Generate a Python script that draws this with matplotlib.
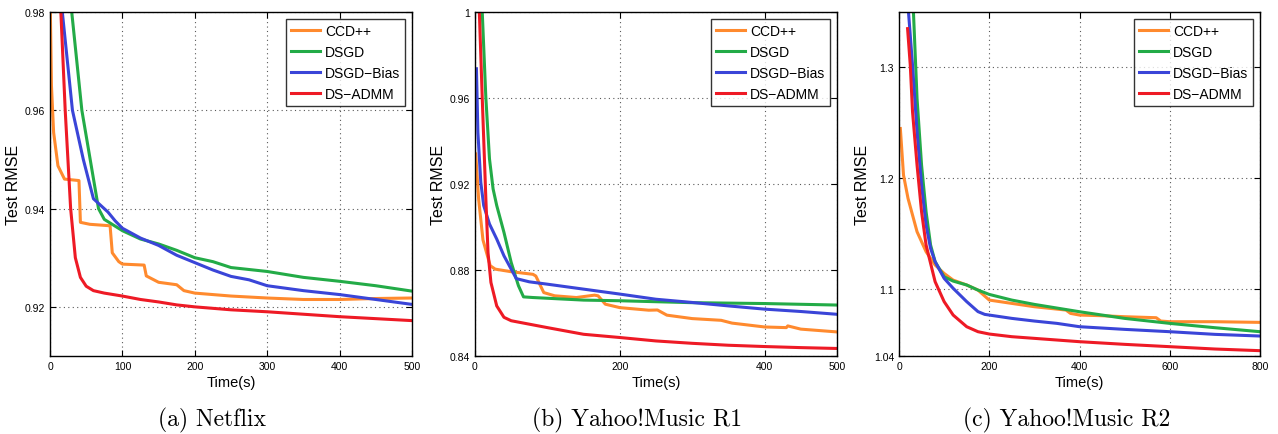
import numpy as np
import matplotlib
matplotlib.use("Agg")
from matplotlib import pyplot as plt

plt.rcParams['font.family'] = ['Liberation Sans', 'DejaVu Sans']

methods = ['CCD++', 'DSGD', 'DSGD\u2212Bias', 'DS\u2212ADMM']
colors = ['#ff8a2e', '#23ab47', '#3a45d8', '#ee1a25']

# (a) Netflix
nf_ccd_t = [0, 2, 5, 11, 20, 40, 42, 55, 83, 86, 95, 100, 130, 133, 150, 175, 185,
            200, 250, 300, 350, 400, 450, 500]
nf_ccd_v = [0.985, 0.965, 0.9555, 0.9487, 0.946, 0.9457, 0.9372, 0.9368, 0.9365, 0.931,
            0.9292, 0.9287, 0.9285, 0.9263, 0.925, 0.9245, 0.9233, 0.9228, 0.9222,
            0.9218, 0.9215, 0.9215, 0.9217, 0.9218]
nf_dsgd_t = [28, 30, 44, 67, 75, 100, 125, 150, 175, 200, 225, 250, 300, 350, 400, 450, 500]
nf_dsgd_v = [0.985, 0.98, 0.96, 0.94, 0.9378, 0.9355, 0.9338, 0.9328, 0.9315, 0.930,
             0.9292, 0.928, 0.9272, 0.926, 0.9252, 0.9243, 0.9232]
nf_bias_t = [15, 17, 31, 46, 60, 80, 90, 100, 125, 150, 175, 200, 225, 250, 275, 300,
             350, 400, 450, 500]
nf_bias_v = [0.985, 0.98, 0.96, 0.95, 0.942, 0.9393, 0.9375, 0.936, 0.934, 0.9325,
             0.9305, 0.929, 0.9275, 0.9262, 0.9255, 0.9243, 0.9233, 0.9225, 0.9215, 0.9205]
nf_admm_t = [14, 15, 21, 28.5, 35, 42, 50, 60, 75, 100, 125, 150, 175, 200, 250, 300,
             350, 400, 450, 500]
nf_admm_v = [0.985, 0.98, 0.96, 0.94, 0.93, 0.926, 0.9242, 0.9233, 0.9228, 0.9222,
             0.9215, 0.921, 0.9204, 0.920, 0.9194, 0.919, 0.9185, 0.918, 0.9176, 0.9172]

# (b) Yahoo!Music R1
r1_ccd_t = [1, 5, 11, 21, 28, 50, 80, 84, 95, 110, 140, 165, 170, 180, 200, 240, 252,
            265, 300, 340, 355, 400, 430, 432, 450, 500]
r1_ccd_v = [0.934, 0.913, 0.894, 0.882, 0.8804, 0.8792, 0.878, 0.8772, 0.8695, 0.868,
            0.8672, 0.8683, 0.868, 0.8641, 0.8625, 0.8613, 0.8614, 0.859, 0.8574,
            0.8566, 0.8553, 0.8535, 0.8532, 0.854, 0.8525, 0.8512]
r1_dsgd_t = [9, 10, 15, 20, 25, 30, 40, 50, 60, 67, 80, 150, 200, 300, 400, 500]
r1_dsgd_v = [1.005, 1.0, 0.96, 0.9317, 0.9177, 0.91, 0.8975, 0.8835, 0.8727, 0.8675,
             0.8672, 0.866, 0.8657, 0.8648, 0.8644, 0.8637]
r1_bias_t = [2, 4, 8, 12, 20, 30, 40, 50, 57, 75, 100, 150, 200, 250, 300, 350, 400,
             450, 500]
r1_bias_v = [0.9736, 0.944, 0.9208, 0.91, 0.9014, 0.8944, 0.8866, 0.8804, 0.876,
             0.8745, 0.8734, 0.8711, 0.8688, 0.8664, 0.8649, 0.8633, 0.8618, 0.8607, 0.8594]
r1_admm_t = [5, 6, 10, 15, 18, 22, 30, 40, 50, 75, 100, 150, 200, 250, 300, 350, 400,
             450, 500]
r1_admm_v = [1.005, 1.0, 0.96, 0.913, 0.888, 0.8742, 0.8633, 0.858, 0.8564, 0.8548,
             0.8532, 0.8501, 0.8486, 0.847, 0.8459, 0.845, 0.8444, 0.8439, 0.8435]

# (c) Yahoo!Music R2
r2_ccd_t = [3, 10, 20, 40, 60, 80, 100, 120, 150, 175, 200, 250, 300, 370, 380, 400,
            450, 500, 570, 580, 600, 700, 800]
r2_ccd_v = [1.245, 1.203, 1.182, 1.152, 1.134, 1.122, 1.1144, 1.1084, 1.104, 1.0994,
            1.0904, 1.0874, 1.0844, 1.0814, 1.0784, 1.0769, 1.0763, 1.0754, 1.0745,
            1.0715, 1.0709, 1.0709, 1.0703]
r2_dsgd_t = [30, 32, 40, 50, 60, 70, 80, 100, 120, 150, 175, 200, 250, 300, 400, 500,
             600, 700, 800]
r2_dsgd_v = [1.36, 1.35, 1.272, 1.212, 1.17, 1.14, 1.125, 1.1114, 1.1075, 1.104,
             1.0994, 1.0955, 1.0904, 1.0865, 1.0799, 1.0739, 1.0694, 1.0655, 1.0619]
r2_bias_t = [19, 21, 30, 40, 50, 60, 70, 80, 100, 120, 150, 175, 190, 200, 250, 300,
             350, 400, 500, 600, 700, 800]
r2_bias_v = [1.36, 1.35, 1.302, 1.242, 1.194, 1.158, 1.137, 1.125, 1.11, 1.101, 1.089,
             1.08, 1.0775, 1.0769, 1.0739, 1.0715, 1.0694, 1.0664, 1.064, 1.0619,
             1.0595, 1.058]
r2_admm_t = [19, 25, 30, 40, 50, 60, 80, 100, 120, 150, 175, 200, 250, 300, 400, 500,
             600, 700, 800]
r2_admm_v = [1.335, 1.302, 1.26, 1.212, 1.17, 1.14, 1.107, 1.089, 1.0769, 1.0664,
             1.0619, 1.0598, 1.0574, 1.0559, 1.0529, 1.0505, 1.0484, 1.0463, 1.0448]

captions = ['(a) Netflix', '(b) Yahoo!Music R1', '(c) Yahoo!Music R2']

panels = [
    dict(series=[(nf_ccd_t, nf_ccd_v), (nf_dsgd_t, nf_dsgd_v), (nf_bias_t, nf_bias_v),
                 (nf_admm_t, nf_admm_v)],
         xlim=(0, 500), ylim=(0.91, 0.98),
         xticks=[0, 100, 200, 300, 400, 500], yticks=[0.92, 0.94, 0.96, 0.98],
         ylabels=['0.92', '0.94', '0.96', '0.98']),
    dict(series=[(r1_ccd_t, r1_ccd_v), (r1_dsgd_t, r1_dsgd_v), (r1_bias_t, r1_bias_v),
                 (r1_admm_t, r1_admm_v)],
         xlim=(0, 500), ylim=(0.84, 1.0),
         xticks=[0, 200, 400, 500], yticks=[0.84, 0.88, 0.92, 0.96, 1.0],
         ylabels=['0.84', '0.88', '0.92', '0.96', '1']),
    dict(series=[(r2_ccd_t, r2_ccd_v), (r2_dsgd_t, r2_dsgd_v), (r2_bias_t, r2_bias_v),
                 (r2_admm_t, r2_admm_v)],
         xlim=(0, 800), ylim=(1.04, 1.35),
         xticks=[0, 200, 400, 600, 800], yticks=[1.04, 1.1, 1.2, 1.3],
         ylabels=['1.04', '1.1', '1.2', '1.3']),
]

fig = plt.figure(figsize=(12.78, 4.35), dpi=100)
lefts = [50, 475, 899]
widths = [362, 362, 361]
cap_x = [212, 637, 1067]

for p, left, w, cap, cx in zip(panels, lefts, widths, captions, cap_x):
    ax = fig.add_axes([left / 1278, 1 - 357 / 435, w / 1278, 344 / 435])
    for (t, v), c, name in zip(p['series'], colors, methods):
        ax.plot(t, v, color=c, lw=2.2, label=name, solid_joinstyle='round')
    ax.set_xlim(*p['xlim'])
    ax.set_ylim(*p['ylim'])
    ax.set_xticks(p['xticks'])
    ax.set_yticks(p['yticks'])
    ax.set_yticklabels(p['ylabels'])
    ax.tick_params(direction='in', top=True, right=True, labelsize=7.5, length=4, width=0.8)
    ax.grid(True, linestyle=(0, (1, 3)), color='0.35', lw=0.8)
    for s in ax.spines.values():
        s.set_linewidth(1.0)
    ax.set_ylabel('Test RMSE', fontsize=11.5, labelpad=3)
    ax.set_xlabel('Time(s)', fontsize=10.5, labelpad=3)
    leg = ax.legend(loc='upper right', fontsize=10, frameon=True, fancybox=False,
                    edgecolor='black', borderpad=0.35, labelspacing=0.5,
                    handlelength=2.1, handletextpad=0.35, borderaxespad=0.5)
    leg.get_frame().set_linewidth(1.0)
    fig.text(cx / 1278, 1 - 420 / 435, cap, ha='center', va='center', fontsize=17,
             family=['cmr10', 'DejaVu Serif'])

fig.savefig('out.png', dpi=100)
